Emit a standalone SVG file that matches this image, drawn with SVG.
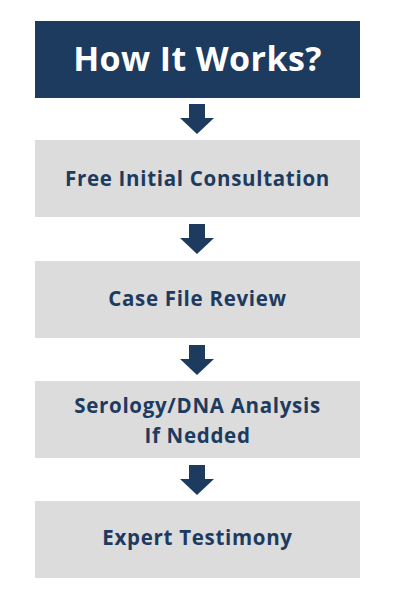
<svg xmlns="http://www.w3.org/2000/svg" width="400" height="600" viewBox="0 0 400 600">
<style>
.box{fill:#dcdcdc}
.hdr{fill:#1d3a5f}
.t{font-family:"Open Sans","Liberation Sans",sans-serif;font-weight:700;fill:#1d3a5f;font-size:20.5px;letter-spacing:0.7px;text-anchor:middle}
.h{font-family:"Open Sans","Liberation Sans",sans-serif;font-weight:700;fill:#ffffff;font-size:34px;letter-spacing:0.4px;text-anchor:middle}
.arr{fill:#1d3a5f}
</style>
<defs>
<path id="a" d="M-8.5,0 H7.5 V14 H16.5 L-0.5,30 L-17.5,14 H-8.5 Z"/>
</defs>
<rect width="400" height="600" fill="#ffffff"/>
<g id="header">
<rect class="hdr" x="35" y="21" width="325" height="77"/>
<text class="h" x="197.5" y="71">How It Works?</text>
</g>
<g id="step1">
<rect class="box" x="35" y="140" width="325" height="77"/>
<text class="t" x="197.5" y="186">Free Initial Consultation</text>
</g>
<g id="step2">
<rect class="box" x="35" y="261" width="325" height="77"/>
<text class="t" x="197.5" y="306">Case File Review</text>
</g>
<g id="step3">
<rect class="box" x="35" y="381" width="325" height="77"/>
<text class="t" x="197.5" y="413">Serology/DNA Analysis</text>
<text class="t" x="197.5" y="443">If Nedded</text>
</g>
<g id="step4">
<rect class="box" x="35" y="501" width="325" height="77"/>
<text class="t" x="197.5" y="545">Expert Testimony</text>
</g>
<g id="connectors">
<use href="#a" class="arr" x="197.5" y="104"/>
<use href="#a" class="arr" x="197.5" y="224"/>
<use href="#a" class="arr" x="197.5" y="345"/>
<use href="#a" class="arr" x="197.5" y="465"/>
</g>
</svg>
